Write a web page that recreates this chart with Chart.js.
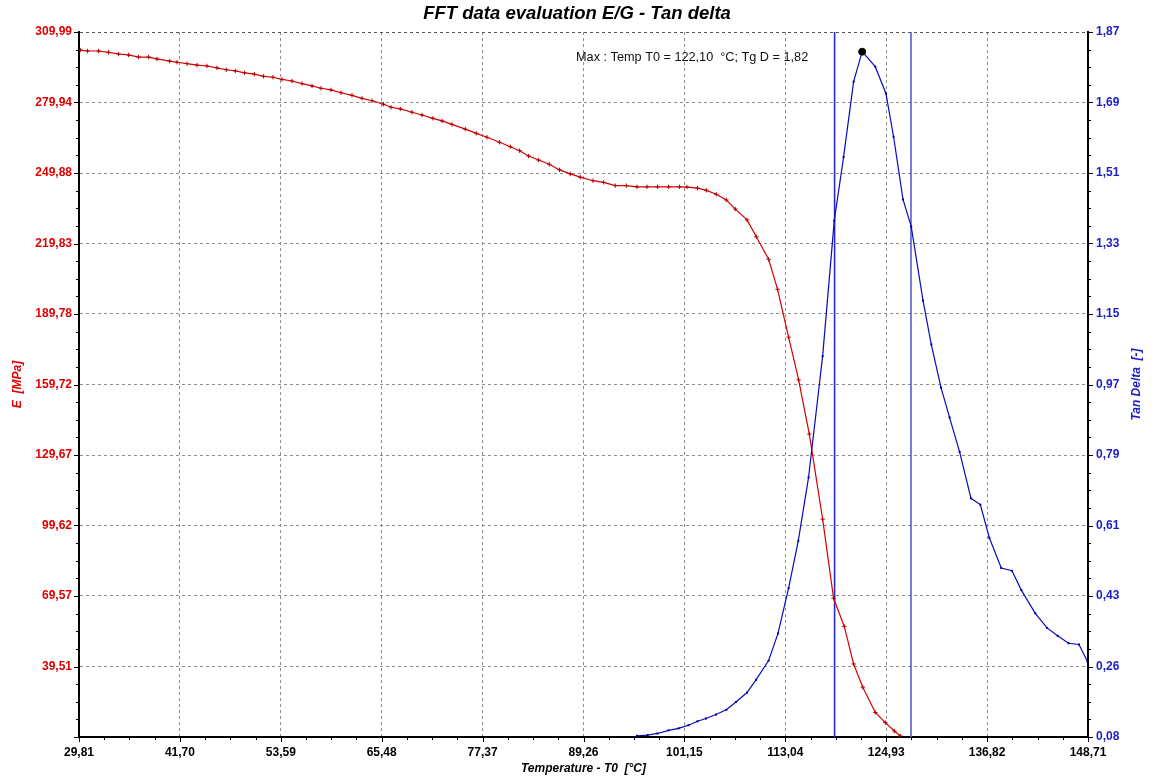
<!DOCTYPE html>
<html>
<head>
<meta charset="utf-8">
<title>FFT data evaluation E/G - Tan delta</title>
<script src="https://cdn.jsdelivr.net/npm/chart.js@4.4.1/dist/chart.umd.min.js"></script>
<style>
  html, body { margin: 0; padding: 0; background: #fff; }
  canvas { display: block; }
</style>
</head>
<body>
<canvas id="fftChart" width="1154" height="782"></canvas>
<script>
// tick labels
const xTicks = [29.81, 41.70, 53.59, 65.48, 77.37, 89.26, 101.15, 113.04, 124.93, 136.82, 148.71];
const eTicks = [309.99, 279.94, 249.88, 219.83, 189.78, 159.72, 129.67, 99.62, 69.57, 39.51];
const eMin = 9.46;
const dTickLabels = ['1,87', '1,69', '1,51', '1,33', '1,15', '0,97', '0,79', '0,61', '0,43', '0,26', '0,08'];
const dMin = 0.08;
const dMax = 1.87;

// E modulus [MPa] vs temperature
const eTemp = [29.96, 30.82, 32.12, 33.30, 34.48, 35.65, 36.83, 38.01, 39.00, 40.49,
  41.36, 42.54, 43.71, 44.89, 46.07, 47.17, 48.23, 49.32, 50.47, 51.56,
  52.67, 53.73, 54.91, 56.09, 57.27, 58.33, 59.51, 60.68, 61.98, 63.16,
  64.34, 65.70, 66.58, 67.67, 69.05, 70.23, 71.52, 72.59, 73.76, 75.33,
  76.63, 77.89, 79.37, 80.63, 81.73, 82.79, 83.97, 85.23, 86.44, 87.70,
  88.88, 90.38, 91.63, 93.00, 94.30, 95.56, 96.74, 97.99, 99.29, 100.58,
  101.45, 102.70, 103.73, 104.91, 106.09, 107.15, 108.53, 109.63, 111.07, 112.13,
  113.43, 114.61, 115.87, 117.44, 118.73, 119.99, 121.09, 122.17, 123.65, 124.83,
  125.89, 126.60];
const eValue = [302.3, 301.9, 301.9, 301.3, 300.6, 300.2, 299.3, 299.3, 298.5, 297.6,
  297.1, 296.5, 295.9, 295.5, 294.7, 293.9, 293.4, 292.6, 292.0, 291.1,
  290.7, 289.8, 289.1, 288.0, 287.0, 286.0, 285.3, 284.1, 283.0, 281.7,
  280.7, 279.2, 277.9, 277.2, 275.8, 274.6, 273.2, 272.1, 270.6, 268.6,
  266.8, 265.1, 263.0, 261.1, 259.4, 257.1, 255.4, 253.6, 251.2, 249.5,
  248.1, 246.6, 245.9, 244.5, 244.5, 244.0, 244.0, 244.0, 244.0, 244.0,
  243.9, 243.4, 242.5, 240.8, 238.4, 234.5, 229.9, 222.7, 213.1, 200.3,
  179.9, 161.7, 138.6, 102.3, 68.6, 56.6, 40.6, 30.7, 19.9, 15.6,
  12.0, 9.9];

// Tan delta [-] vs temperature
const dTemp = [95.56, 96.81, 97.99, 99.29, 100.47, 101.64, 102.70, 103.69, 104.87, 106.09,
  107.23, 108.53, 109.59, 111.07, 112.18, 113.43, 114.57, 115.78, 117.44, 118.81,
  119.91, 121.09, 122.10, 123.64, 124.90, 125.80, 126.91, 127.88, 129.27, 130.24,
  131.39, 132.40, 133.58, 134.92, 136.02, 137.08, 138.49, 139.75, 140.85, 142.50,
  143.88, 145.13, 146.42, 147.65, 148.66];
const dValue = [0.083, 0.085, 0.089, 0.097, 0.102, 0.110, 0.120, 0.127, 0.137, 0.149,
  0.169, 0.193, 0.225, 0.274, 0.343, 0.458, 0.578, 0.739, 1.047, 1.391,
  1.553, 1.744, 1.82, 1.782, 1.714, 1.604, 1.445, 1.376, 1.188, 1.077,
  0.967, 0.891, 0.804, 0.686, 0.670, 0.586, 0.509, 0.502, 0.453, 0.394,
  0.357, 0.337, 0.318, 0.315, 0.271];

// markers: two temperature cursors and the maximum
const cursorTemps = [118.85, 127.85];
const maxTemp = 122.10;
const maxTanD = 1.82;

const RED = '#e00000';
const BLUE = '#1c1cc8';
const FONT = '"Liberation Sans", Arial, sans-serif';

const fmt = v => v.toFixed(2).replace('.', ',');

// major + quarter minor tick marks on all three axes
const axisTicks = {
  id: 'axisTicks',
  afterDraw(chart) {
    const { ctx, chartArea, scales } = chart;
    const withMinors = (majors) => {
      const out = [];
      for (let i = 0; i < majors.length; i++) {
        out.push({ v: majors[i], major: true });
        if (i < majors.length - 1) {
          for (let k = 1; k < 4; k++) out.push({ v: majors[i] + (majors[i + 1] - majors[i]) * k / 4, major: false });
        }
      }
      return out;
    };
    ctx.save();
    ctx.strokeStyle = '#000';
    ctx.lineWidth = 1;
    ctx.beginPath();
    withMinors(xTicks).forEach(t => {
      const px = Math.round(scales.x.getPixelForValue(t.v)) + 0.5;
      ctx.moveTo(px, chartArea.bottom);
      ctx.lineTo(px, chartArea.bottom + (t.major ? 5 : 3));
    });
    withMinors([eMin].concat(eTicks.slice().reverse())).forEach(t => {
      const py = Math.round(scales.yE.getPixelForValue(t.v)) + 0.5;
      ctx.moveTo(chartArea.left, py);
      ctx.lineTo(chartArea.left - (t.major ? 5 : 3), py);
    });
    withMinors(scales.yD.ticks.map(t => t.value)).forEach(t => {
      const py = Math.round(scales.yD.getPixelForValue(t.v)) + 0.5;
      ctx.moveTo(chartArea.right, py);
      ctx.lineTo(chartArea.right + (t.major ? 5 : 3), py);
    });
    ctx.stroke();

    // right axis title reads bottom to top
    ctx.fillStyle = BLUE;
    ctx.font = 'italic bold 12px ' + FONT;
    ctx.textAlign = 'center';
    ctx.textBaseline = 'middle';
    ctx.translate(1137, (chartArea.top + chartArea.bottom) / 2);
    ctx.rotate(-Math.PI / 2);
    ctx.fillText('Tan Delta  [-]', 0, 0);
    ctx.restore();

    // maximum annotation
    ctx.save();
    ctx.fillStyle = '#111';
    ctx.font = '12.7px ' + FONT;
    ctx.textAlign = 'right';
    ctx.textBaseline = 'middle';
    const mx = scales.x.getPixelForValue(maxTemp);
    const my = scales.yD.getPixelForValue(maxTanD);
    ctx.fillText('Max : Temp T0 = ' + fmt(maxTemp) + '  \u00B0C; Tg D = ' + fmt(maxTanD), mx - 54, my + 6);
    ctx.restore();
  }
};

const ctx = document.getElementById('fftChart').getContext('2d');

new Chart(ctx, {
  type: 'line',
  data: {
    datasets: [
      {
        label: 'Max',
        data: [{ x: maxTemp, y: maxTanD }],
        yAxisID: 'yD',
        showLine: false,
        pointStyle: 'circle',
        pointRadius: 3.5,
        pointBackgroundColor: '#000',
        pointBorderColor: '#000'
      },
      {
        label: 'Tan Delta',
        data: dTemp.map((t, i) => ({ x: t, y: dValue[i] })),
        yAxisID: 'yD',
        borderColor: '#0a0ac0',
        borderWidth: 1.2,
        pointStyle: 'rect',
        pointRadius: 1.4,
        pointBackgroundColor: '#000090',
        pointBorderColor: '#000090',
        pointBorderWidth: 0
      },
      {
        label: 'E',
        data: eTemp.map((t, i) => ({ x: t, y: eValue[i] })),
        yAxisID: 'yE',
        borderColor: '#d60000',
        borderWidth: 1.2,
        pointStyle: 'cross',
        pointRadius: 2.2,
        pointBorderColor: '#b00000',
        pointBorderWidth: 1
      },
      ...cursorTemps.map((t, i) => ({
        label: 'Cursor ' + (i + 1),
        data: [{ x: t, y: dMin }, { x: t, y: dMax }],
        yAxisID: 'yD',
        borderColor: i === 0 ? '#2a2ac4' : '#5a5ad2',
        borderWidth: 1.6,
        pointRadius: 0
      }))
    ]
  },
  options: {
    responsive: false,
    animation: false,
    devicePixelRatio: 1,
    events: [],
    layout: { padding: 0 },
    elements: { line: { tension: 0 } },
    plugins: {
      legend: { display: false },
      tooltip: { enabled: false },
      title: {
        display: true,
        text: 'FFT data evaluation E/G - Tan delta',
        color: '#000',
        font: { family: FONT, size: 18.5, weight: 'bold', style: 'italic' },
        padding: { top: 2.5, bottom: 7.3 }
      }
    },
    scales: {
      x: {
        type: 'linear',
        position: 'bottom',
        min: xTicks[0],
        max: xTicks[xTicks.length - 1],
        afterFit: s => { s.height = 45; },
        afterBuildTicks: s => { s.ticks = xTicks.map(v => ({ value: v })); },
        ticks: {
          autoSkip: false,
          maxRotation: 0,
          padding: 8,
          color: '#000',
          font: { family: FONT, size: 12, weight: 'bold' },
          callback: v => fmt(v)
        },
        grid: { color: '#8c8c8c', lineWidth: 1, drawTicks: false },
        border: { display: true, color: '#000', width: 2, dash: [3, 3] },
        title: {
          display: true,
          text: 'Temperature - T0  [\u00B0C]',
          color: '#000',
          font: { family: FONT, size: 12, weight: 'bold', style: 'italic' },
          padding: { top: 0, bottom: 6 }
        }
      },
      yE: {
        type: 'linear',
        position: 'left',
        min: eMin,
        max: eTicks[0],
        afterFit: s => { s.width = 79; },
        afterBuildTicks: s => { s.ticks = eTicks.slice().reverse().map(v => ({ value: v })); },
        ticks: {
          autoSkip: false,
          padding: 7,
          color: RED,
          font: { family: FONT, size: 12, weight: 'bold' },
          callback: v => fmt(v)
        },
        grid: {
          color: c => (c.tick && c.tick.value === eTicks[0]) ? '#555' : '#8c8c8c',
          lineWidth: 1,
          drawTicks: false
        },
        border: { display: true, color: '#000', width: 2, dash: [3, 3] },
        title: {
          display: true,
          text: 'E  [MPa]',
          color: RED,
          font: { family: FONT, size: 12, weight: 'bold', style: 'italic' },
          padding: { top: 10.8, bottom: 0 }
        }
      },
      yD: {
        type: 'linear',
        position: 'right',
        min: dMin,
        max: dMax,
        afterFit: s => { s.width = 66; },
        afterBuildTicks: s => {
          const n = dTickLabels.length - 1;
          s.ticks = dTickLabels.map((l, i) => ({ value: dMin + (n - i) * (dMax - dMin) / n })).reverse();
        },
        ticks: {
          autoSkip: false,
          padding: 8,
          color: BLUE,
          font: { family: FONT, size: 12, weight: 'bold' },
          callback: (v, i, ticks) => dTickLabels[ticks.length - 1 - i]
        },
        grid: { display: false, drawTicks: false },
        border: { display: true, color: '#000', width: 2 }
      }
    }
  },
  plugins: [axisTicks]
});
</script>
</body>
</html>
